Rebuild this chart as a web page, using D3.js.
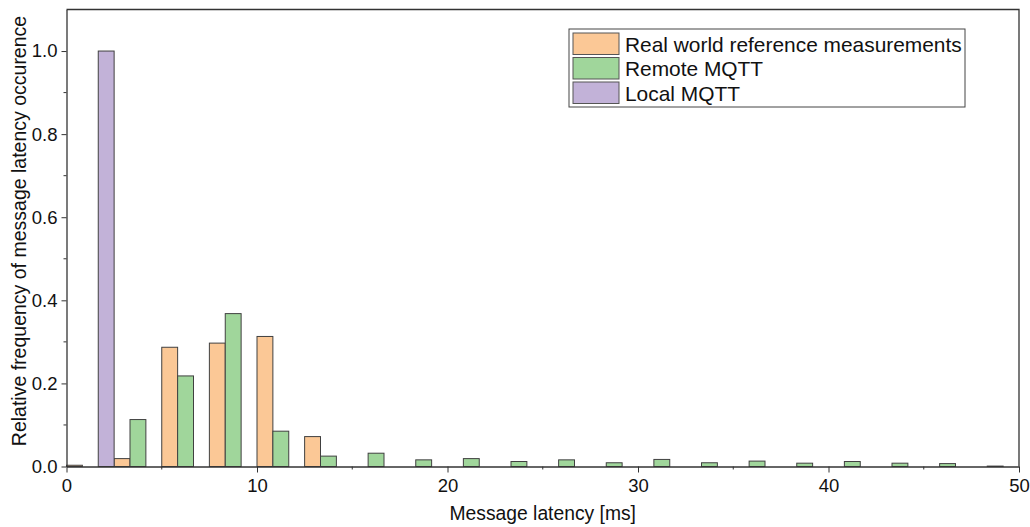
<!DOCTYPE html>
<html>
<head>
<meta charset="utf-8">
<script src="https://d3js.org/d3.v7.min.js"></script>
<style>
    body { margin: 0; background: #fff; }
    svg { display: block; font-family: "Liberation Sans", Arial, sans-serif; }
</style>
</head>
<body>
<svg id="drawing_region"></svg>
<script>
// latency bins (start of each 2.5 ms bin)
const bins = [0, 2.5, 5, 7.5, 10, 12.5, 15, 17.5, 20, 22.5, 25, 27.5, 30, 32.5, 35, 37.5, 40, 42.5, 45, 47.5];
const binWidth = 2.5;

const seriesNames = ['Real world reference measurements', 'Remote MQTT', 'Local MQTT'];
const seriesColors = ['#fbc896', '#a0d69b', '#c2b2d8'];

const realWorld = [0.003, 0.019, 0.287, 0.297, 0.313, 0.072, 0, 0, 0, 0, 0, 0, 0, 0, 0, 0, 0, 0, 0, 0];
const remoteMqtt = [0, 0.113, 0.218, 0.368, 0.085, 0.025, 0.032, 0.016, 0.019, 0.012, 0.016, 0.009, 0.017, 0.009, 0.013, 0.008, 0.012, 0.008, 0.007, 0.001];
const localMqtt = [1.0, 0, 0, 0, 0, 0, 0, 0, 0, 0, 0, 0, 0, 0, 0, 0, 0, 0, 0, 0];

const xMajorTicks = [0, 10, 20, 30, 40, 50];
const xMinorTicks = [5, 15, 25, 35, 45];
const yMajorTicks = [0, 0.2, 0.4, 0.6, 0.8, 1.0];
const yMinorTicks = [0.1, 0.3, 0.5, 0.7, 0.9];

var config = {
    parent: '#drawing_region',
    width: 1030,
    height: 527,
    margin: {top: 9.5, right: 11, bottom: 60.5, left: 66.5}
};

class HistogramPlot {
    constructor( config ) {
        this.config = config;
        this.series = [realWorld, remoteMqtt, localMqtt];
        this.init();
    }

    init() {
        let self = this;
        self.svg = d3.select( self.config.parent )
            .attr('width', self.config.width)
            .attr('height', self.config.height);

        self.inner_width = self.config.width - self.config.margin.left - self.config.margin.right;
        self.inner_height = self.config.height - self.config.margin.top - self.config.margin.bottom;

        self.chart = self.svg.append('g')
            .attr('transform', `translate(${self.config.margin.left}, ${self.config.margin.top})`);

        self.xscale = d3.scaleLinear()
            .domain([0, 50])
            .range([0, self.inner_width]);

        self.yscale = d3.scaleLinear()
            .domain([0, 1.1])
            .range([self.inner_height, 0]);
    }

    render() {
        let self = this;
        const n = self.series.length;
        const slot = binWidth / n;

        // bars
        self.series.forEach( (values, i) => {
            self.chart.append('g')
                .selectAll('rect')
                .data(bins.map( (b, k) => ({x: b, y: values[k]}) ).filter(d => d.y > 0))
                .join('rect')
                .attr('x', d => self.xscale(d.x + i * slot))
                .attr('y', d => self.yscale(d.y))
                .attr('width', self.xscale(slot) - self.xscale(0))
                .attr('height', d => self.yscale(0) - self.yscale(d.y))
                .attr('fill', seriesColors[i])
                .attr('stroke', '#404040')
                .attr('stroke-width', 1);
        });

        // frame (top and right)
        self.chart.append('path')
            .attr('d', `M0,0H${self.inner_width}V${self.inner_height}`)
            .attr('fill', 'none')
            .attr('stroke', '#333')
            .attr('stroke-width', 1.3);

        // x axis
        const xaxis = d3.axisBottom(self.xscale)
            .tickValues(xMajorTicks)
            .tickFormat(d3.format('d'))
            .tickSize(6)
            .tickPadding(6)
            .tickSizeOuter(0);
        const xg = self.chart.append('g')
            .attr('transform', `translate(0, ${self.inner_height})`)
            .call(xaxis);
        xg.append('g').selectAll('line')
            .data(xMinorTicks)
            .join('line')
            .attr('x1', d => self.xscale(d)).attr('x2', d => self.xscale(d))
            .attr('y1', 0).attr('y2', 3)
            .attr('stroke', '#333');

        // y axis
        const yaxis = d3.axisLeft(self.yscale)
            .tickValues(yMajorTicks)
            .tickFormat(d3.format('.1f'))
            .tickSize(5)
            .tickPadding(4)
            .tickSizeOuter(0);
        const yg = self.chart.append('g').call(yaxis);
        yg.append('g').selectAll('line')
            .data(yMinorTicks)
            .join('line')
            .attr('y1', d => self.yscale(d)).attr('y2', d => self.yscale(d))
            .attr('x1', 0).attr('x2', -3)
            .attr('stroke', '#333');

        [xg, yg].forEach( g => {
            g.select('.domain').attr('stroke', '#333').attr('stroke-width', 1.3);
            g.selectAll('.tick line').attr('stroke', '#333');
            g.selectAll('.tick text')
                .attr('font-size', 18.5)
                .attr('font-family', '"Liberation Sans", Arial, sans-serif')
                .attr('fill', '#111');
        });

        // axis titles
        self.chart.append('text')
            .attr('x', self.inner_width / 2)
            .attr('y', self.inner_height + 53)
            .attr('text-anchor', 'middle')
            .attr('font-size', 19.3)
            .attr('fill', '#111')
            .text('Message latency [ms]');

        self.svg.append('text')
            .attr('transform', `translate(26, ${self.config.margin.top + self.inner_height / 2 - 7}) rotate(-90)`)
            .attr('text-anchor', 'middle')
            .attr('font-size', 19.5)
            .attr('fill', '#111')
            .text('Relative frequency of message latency occurence');

        // legend
        const legend = self.svg.append('g')
            .attr('transform', 'translate(569, 29)');
        legend.append('rect')
            .attr('width', 396).attr('height', 78)
            .attr('fill', '#fff')
            .attr('stroke', '#444')
            .attr('stroke-width', 1);
        seriesNames.forEach( (name, i) => {
            const row = legend.append('g')
                .attr('transform', `translate(4, ${4 + i * 24.5})`);
            row.append('rect')
                .attr('width', 46).attr('height', 21.5)
                .attr('fill', seriesColors[i])
                .attr('stroke', '#555');
            row.append('text')
                .attr('x', 52).attr('y', 18.5)
                .attr('font-size', 20.9)
                .attr('fill', '#111')
                .text(name);
        });
    }
}

const histogram_plot = new HistogramPlot( config );
histogram_plot.render();
</script>
</body>
</html>
